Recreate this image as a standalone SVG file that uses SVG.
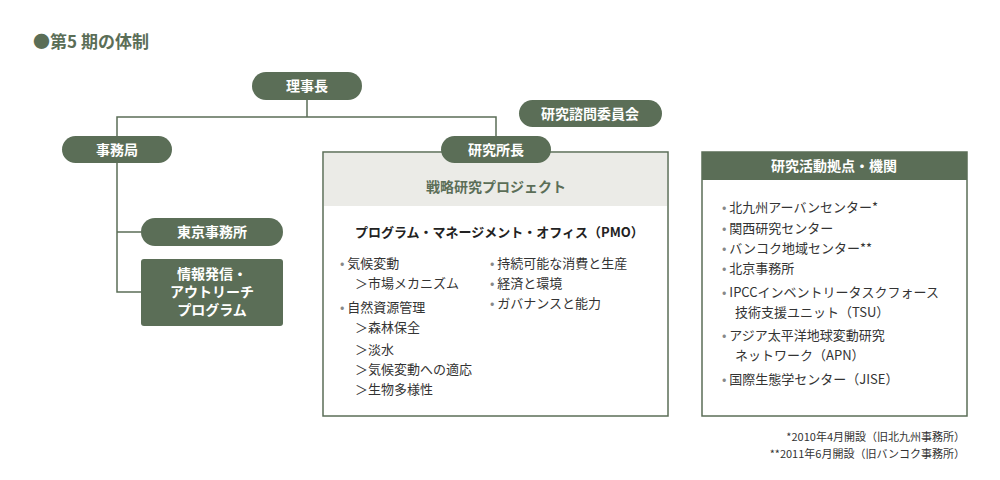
<svg xmlns="http://www.w3.org/2000/svg" width="1000" height="480" viewBox="0 0 1000 480">
<style>
text{font-family:"Noto Sans CJK JP","Noto Sans",sans-serif;}
.pill{fill:#5b6e57;}
.wt{fill:#fff;font-size:14px;font-weight:bold;text-anchor:middle;}
.t{fill:#333;font-size:13px;}
.b{fill:#888;}
.ln{stroke:#5b6e57;stroke-width:1.5;fill:none;}
</style>
<rect width="1000" height="480" fill="#fff"/>
<text x="33" y="48" font-size="17" font-weight="bold" fill="#5b6e57">●第5 期の体制</text>
<g id="connectors">
<path class="ln" d="M307 100V117M117 136V117H496V136M117 163V292H141M117 232H141"/>
</g>
<g id="rijicho"><rect class="pill" x="252" y="72" width="110" height="28" rx="14"/><text class="wt" x="307" y="91">理事長</text></g>
<g id="jimukyoku"><rect class="pill" x="62" y="136" width="110" height="27" rx="13.5"/><text class="wt" x="117" y="155">事務局</text></g>
<g id="tokyo"><rect class="pill" x="141" y="218" width="142" height="28" rx="14"/><text class="wt" x="212" y="237">東京事務所</text></g>
<g id="joho"><rect class="pill" x="141" y="259" width="142" height="67" rx="3"/><text class="wt" x="212" y="279">情報発信・</text><text class="wt" x="212" y="297">アウトリーチ</text><text class="wt" x="212" y="315">プログラム</text></g>
<g id="senryaku">
<rect x="323" y="152" width="345" height="264" fill="#fff" stroke="#5b6e57" stroke-width="1.5"/>
<rect x="324" y="153" width="343" height="53" fill="#ebebe7"/>
<text x="496" y="192" font-size="14" font-weight="bold" fill="#5b6e57" text-anchor="middle">戦略研究プロジェクト</text>
<text x="355" y="237" font-size="13" font-weight="bold" fill="#222">プログラム・マネージメント・オフィス（PMO）</text>
<text class="t" x="340" y="268"><tspan class="b">•</tspan> 気候変動</text>
<text class="t" x="355" y="288">＞市場メカニズム</text>
<text class="t" x="340" y="312"><tspan class="b">•</tspan> 自然資源管理</text>
<text class="t" x="355" y="332">＞森林保全</text>
<text class="t" x="355" y="354">＞淡水</text>
<text class="t" x="355" y="374">＞気候変動への適応</text>
<text class="t" x="355" y="394">＞生物多様性</text>
<text class="t" x="490" y="268"><tspan class="b">•</tspan> 持続可能な消費と生産</text>
<text class="t" x="490" y="288"><tspan class="b">•</tspan> 経済と環境</text>
<text class="t" x="490" y="308"><tspan class="b">•</tspan> ガバナンスと能力</text>
</g>
<g id="shocho"><rect class="pill" x="441" y="136" width="110" height="27" rx="13.5"/><text class="wt" x="496" y="155">研究所長</text></g>
<g id="shimon"><rect class="pill" x="519" y="100" width="143" height="27" rx="13.5"/><text class="wt" x="590" y="119">研究諮問委員会</text></g>
<g id="kyoten">
<rect x="702" y="152" width="265" height="264" fill="#fff" stroke="#5b6e57" stroke-width="1.5"/>
<rect x="702" y="152" width="265" height="28" fill="#5b6e57"/>
<text class="wt" x="834" y="171" font-size="13">研究活動拠点・機関</text>
<text class="t" x="722" y="212"><tspan class="b">•</tspan> 北九州アーバンセンター*</text>
<text class="t" x="722" y="233"><tspan class="b">•</tspan> 関西研究センター</text>
<text class="t" x="722" y="253"><tspan class="b">•</tspan> バンコク地域センター**</text>
<text class="t" x="722" y="273"><tspan class="b">•</tspan> 北京事務所</text>
<text class="t" x="722" y="297"><tspan class="b">•</tspan> IPCCインベントリータスクフォース</text>
<text class="t" x="735" y="317">技術支援ユニット（TSU）</text>
<text class="t" x="722" y="340"><tspan class="b">•</tspan> アジア太平洋地球変動研究</text>
<text class="t" x="735" y="360">ネットワーク（APN）</text>
<text class="t" x="722" y="384"><tspan class="b">•</tspan> 国際生態学センター（JISE）</text>
</g>
<text x="965" y="441" font-size="11" fill="#333" text-anchor="end">*2010年4月開設（旧北九州事務所）</text>
<text x="965" y="458" font-size="11" fill="#333" text-anchor="end">**2011年6月開設（旧バンコク事務所）</text>
</svg>
